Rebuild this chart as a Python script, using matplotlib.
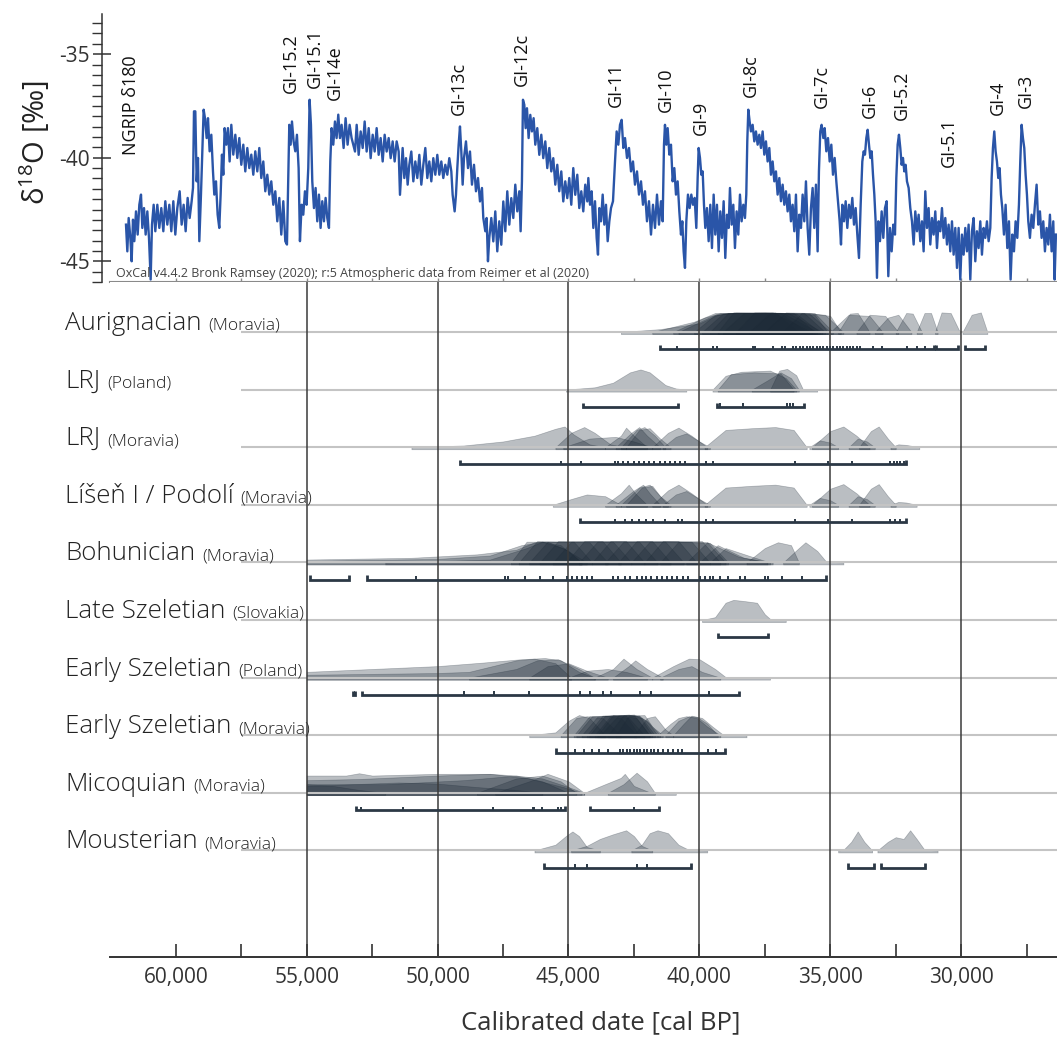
import matplotlib
matplotlib.use("Agg")
import matplotlib.pyplot as plt
import matplotlib.transforms as mtransforms
from matplotlib.ticker import FuncFormatter, MultipleLocator

plt.rcParams['font.family'] = ['Open Sans', 'DejaVu Sans']
plt.rcParams['axes.unicode_minus'] = False
plt.rcParams['mathtext.default'] = 'regular'

# ---------------- NGRIP d18O record ----------------
ngrip_age = [
    61903, 61852, 61801, 61737, 61687, 61636, 61585, 61521, 61457, 61394, 61330, 61279, 61215, 61152,
    61088, 61025, 60961, 60910, 60846, 60783, 60706, 60630, 60554, 60477, 60401, 60324, 60248, 60172,
    60095, 60019, 59943, 59853, 59777, 59701, 59624, 59548, 59471, 59395, 59344, 59306, 59255, 59204,
    59153, 59102, 59039, 58988, 58937, 58886, 58822, 58771, 58708, 58644, 58580, 58530, 58466, 58402,
    58339, 58288, 58237, 58186, 58135, 58071, 58008, 57944, 57880, 57804, 57727, 57651, 57575, 57498,
    57422, 57346, 57269, 57193, 57116, 57040, 56964, 56887, 56811, 56735, 56658, 56582, 56505, 56429,
    56353, 56276, 56200, 56123, 56047, 55971, 55894, 55818, 55754, 55716, 55665, 55614, 55563, 55500,
    55436, 55373, 55309, 55258, 55194, 55131, 55067, 55004, 54940, 54889, 54838, 54787, 54723, 54660,
    54596, 54532, 54469, 54405, 54341, 54278, 54214, 54150, 54099, 54049, 53985, 53921, 53858, 53794,
    53730, 53667, 53590, 53514, 53438, 53361, 53285,
    53155, 53091, 53015, 52939, 52862, 52786, 52710, 52633, 52557, 52480, 52404, 52328, 52251, 52175,
    52098, 52022, 51946, 51869, 51793, 51717, 51640, 51564, 51487, 51437, 51386, 51335, 51271, 51207,
    51144, 51080, 51004, 50927, 50851, 50775, 50698, 50622, 50545, 50469, 50393, 50316, 50240, 50164,
    50087, 50011, 49934, 49858, 49782, 49705, 49629, 49553, 49476, 49425, 49349, 49298, 49247, 49196,
    49145, 49094, 49043, 48992, 48916, 48839, 48763, 48687, 48610, 48534, 48457, 48381, 48305, 48254,
    48178, 48127, 48076, 48025, 47948, 47872, 47796, 47720, 47643, 47567, 47490, 47414, 47338, 47261,
    47185, 47108, 47032, 46956, 46879, 46828, 46778, 46739, 46688, 46637, 46586, 46523, 46459, 46396,
    46332, 46268, 46192, 46115, 46039, 45963, 45886, 45810, 45734, 45657, 45581, 45504, 45428, 45352,
    45275, 45199, 45123, 45046, 44970, 44893, 44817, 44741, 44664, 44588, 44511, 44435, 44359, 44282,
    44242, 44178, 44115, 44051, 43987, 43924, 43873, 43822, 43758, 43694, 43631, 43567, 43503, 43440,
    43376, 43300, 43223, 43160, 43096, 43032, 42969, 42905, 42841, 42765, 42689, 42612, 42536, 42460,
    42383, 42307, 42230, 42154, 42078, 42001, 41925, 41848, 41772, 41696, 41619, 41543, 41467, 41403,
    41352, 41314, 41263, 41212, 41148, 41085, 41021, 40957, 40894, 40830, 40766, 40703, 40652, 40601,
    40550, 40499, 40436, 40372, 40308, 40245, 40181, 40117, 40066, 40028, 39977, 39926, 39875, 39824,
    39774, 39710, 39646, 39583, 39519, 39455, 39392, 39328, 39264, 39201, 39137, 39073, 39010, 38946,
    38882, 38832, 38768, 38704, 38641, 38577, 38513, 38450, 38386, 38322, 38259, 38208, 38170, 38131,
    38080, 38030, 37966, 37902, 37839, 37775, 37711, 37648, 37584, 37520, 37457, 37393, 37329, 37266,
    37202, 37138, 37075, 37011, 36947, 36884, 36820, 36756, 36693, 36629, 36565, 36502, 36438, 36374,
    36311, 36247, 36183, 36120, 36056, 35993, 35929, 35865, 35802, 35738, 35674, 35611, 35547, 35483,
    35433, 35382, 35331,
    35265, 35214, 35151, 35087, 35023, 34960, 34896, 34832, 34769, 34705, 34641, 34590, 34540, 34476,
    34412, 34349, 34285, 34221, 34158, 34094, 34030, 33967, 33903, 33839, 33776, 33725, 33674, 33623,
    33572, 33521, 33470, 33419, 33368, 33317, 33267, 33216, 33165, 33101, 33037, 32974, 32910, 32846,
    32783, 32719, 32655, 32592, 32528, 32477, 32426, 32376, 32325, 32274, 32223, 32172, 32121, 32070,
    32006, 31943, 31879, 31815, 31752, 31688, 31624, 31561, 31497, 31434, 31370, 31306, 31243, 31179,
    31115, 31052, 30988, 30924, 30861, 30797, 30733, 30670, 30606, 30542, 30479, 30415, 30351, 30288,
    30224, 30160, 30097, 30033, 29970, 29906, 29842, 29779, 29715, 29651, 29588, 29524, 29460, 29397,
    29333, 29269, 29206, 29142, 29078, 29015, 28951, 28887, 28836, 28786, 28735, 28684, 28633, 28582,
    28531, 28480, 28429, 28365, 28302, 28238, 28174, 28111, 28047, 27983, 27920, 27856, 27793, 27742,
    27691, 27640, 27589, 27538, 27487, 27436, 27373, 27309, 27245, 27182, 27118, 27054, 26991, 26927,
    26863, 26800, 26736, 26672, 26609, 26545, 26481, 26430, 26380,
]
ngrip_d18o = [
    -43.23, -44.52, -42.91, -43.87, -45.00, -42.99, -44.03, -42.59, -43.71, -42.27, -41.78, -43.39, -42.43, -43.71,
    -42.59, -43.87, -45.88, -43.23, -42.27, -43.55, -42.27, -43.39, -42.43, -43.55, -42.10, -43.23, -42.27, -43.55,
    -42.10, -43.71, -42.43, -41.62, -43.23, -42.27, -43.55, -41.94, -42.91, -42.10, -41.46, -37.76, -37.76, -41.14,
    -40.01, -44.03, -41.78, -39.69, -37.68, -38.09, -39.05, -38.09, -39.69, -38.89, -40.66, -41.78, -41.14, -42.75,
    -43.39, -41.78, -39.85, -40.82, -38.57, -39.37, -38.57, -40.18, -38.41, -39.85, -38.89, -40.01, -39.05, -40.34,
    -39.37, -40.66, -39.53, -40.50, -39.85, -40.82, -39.69, -40.66, -39.53, -40.98, -40.18, -41.62, -40.82, -41.78,
    -41.14, -42.27, -41.62, -43.07, -41.94, -43.71, -42.10, -44.03, -44.19, -41.78, -38.41, -39.37, -38.25, -39.21,
    -39.69, -38.89, -40.50, -44.03, -42.27, -42.75, -41.62, -42.27, -40.50, -37.20, -38.41, -41.14, -42.43, -41.46,
    -43.07, -41.78, -43.39, -42.10, -43.07, -41.94, -42.91, -43.39, -40.18, -38.57, -39.37, -38.25, -39.05, -37.92,
    -39.05, -38.41, -39.53, -38.09, -39.37, -38.41, -39.05,
    -39.70, -38.41, -39.86, -38.73, -39.53, -38.25, -39.70, -38.57, -40.02, -38.89, -39.70, -38.57, -39.86, -39.05,
    -40.18, -38.89, -39.70, -39.05, -40.02, -39.21, -40.18, -39.21, -39.70, -41.79, -40.66, -39.53, -40.98, -40.02,
    -41.30, -40.34, -39.70, -41.14, -40.18, -40.98, -39.86, -41.30, -40.34, -39.53, -40.98, -40.18, -41.14, -40.02,
    -40.82, -39.86, -40.82, -40.18, -40.98, -40.34, -40.82, -40.02, -40.66, -41.79, -42.59, -41.79, -40.50, -39.37,
    -38.49, -39.70, -41.30, -40.02, -39.21, -40.50, -39.70, -41.30, -40.34, -41.62, -40.98, -42.11, -41.46, -42.91,
    -43.55, -42.91, -45.00, -43.87, -42.91, -44.04, -42.59, -44.52, -43.07, -44.20, -42.11, -43.55, -41.62, -43.23,
    -41.95, -42.91, -41.30, -42.59, -41.62, -43.55, -41.14, -37.20, -37.44, -38.57, -37.61, -39.05, -37.93, -38.73,
    -38.09, -39.37, -38.57, -39.86, -38.89, -40.02, -39.21, -40.50, -39.53, -40.66, -40.02, -41.30, -40.34, -41.62,
    -40.66, -42.11, -41.14, -41.95, -40.98, -42.27, -40.50, -41.79, -40.82, -42.43, -41.62, -42.59, -41.30, -42.11,
    -40.98, -42.27, -41.62, -43.39, -42.10, -43.87, -44.68, -42.43, -43.07, -41.78, -43.23, -42.27, -44.03, -43.07,
    -42.43, -42.10, -40.18, -38.73, -39.37, -38.41, -38.17, -39.53, -39.05, -40.01, -39.53, -40.66, -40.18, -41.30,
    -40.66, -41.78, -41.14, -42.27, -41.62, -43.07, -42.10, -43.71, -42.27, -43.39, -41.78, -43.23, -42.10, -43.07,
    -39.37, -38.41, -39.37, -38.57, -39.85, -39.37, -41.14, -40.50, -41.78, -41.14, -42.59, -43.71, -43.07, -44.52,
    -45.32, -43.07, -41.78, -42.43, -41.78, -42.27, -41.94, -43.39, -40.98, -39.53, -40.01, -40.82, -40.66, -42.27,
    -43.39, -42.43, -44.03, -42.27, -44.36, -41.78, -43.71, -42.27, -44.52, -42.59, -43.87, -42.10, -44.84, -42.75,
    -43.39, -41.46, -43.23, -42.27, -44.36, -42.59, -43.71, -41.78, -43.07, -42.27, -42.91, -41.78, -39.21, -37.68,
    -38.25, -38.73, -38.41, -39.21, -38.73, -39.37, -38.89, -39.53, -38.73, -39.85, -39.21, -40.18, -39.53, -40.82,
    -40.18, -41.14, -40.66, -41.78, -40.98, -42.10, -41.30, -42.27, -41.62, -42.59, -41.78, -43.07, -42.27, -43.55,
    -41.78, -44.52, -42.75, -43.39, -41.78, -43.07, -41.14, -43.39, -44.68, -42.43, -41.46, -43.39, -41.30, -44.52,
    -40.66, -38.73, -38.41,
    -39.05, -38.57, -39.69, -39.05, -40.18, -39.37, -40.82, -40.01, -41.14, -42.10, -43.07, -44.19, -42.27, -43.07,
    -42.10, -43.39, -42.27, -42.91, -41.94, -43.23, -42.43, -43.71, -44.84, -42.27, -40.18, -39.69, -39.85, -39.05,
    -38.65, -39.37, -40.01, -39.69, -40.82, -41.78, -43.07, -45.80, -43.07, -44.03, -42.59, -43.87, -42.43, -42.10,
    -45.72, -43.39, -44.52, -43.23, -43.71, -40.98, -39.37, -38.89, -39.53, -40.34, -40.01, -40.66, -40.34, -41.14,
    -41.46, -42.43, -43.07, -44.19, -42.59, -43.55, -42.75, -44.03, -43.07, -44.52, -41.62, -43.39, -42.43, -44.19,
    -42.91, -43.71, -42.59, -44.36, -43.07, -43.55, -42.43, -43.87, -42.91, -44.19, -43.23, -44.52, -43.07, -44.68,
    -43.39, -45.32, -43.39, -45.88, -43.71, -44.68, -43.39, -44.52, -43.23, -45.88, -43.55, -42.91, -45.00, -43.55,
    -44.36, -43.07, -44.68, -43.39, -43.87, -43.07, -44.03, -43.39, -40.98, -39.53, -38.73, -39.69, -40.18, -40.98,
    -40.50, -41.78, -42.43, -43.71, -42.27, -44.36, -43.07, -45.88, -43.71, -44.52, -43.07, -43.87, -42.27, -40.18,
    -38.41, -39.05, -39.53, -40.82, -41.78, -43.07, -43.87, -42.75, -43.39, -42.27, -41.30, -43.23, -42.59, -43.87,
    -43.07, -44.52, -43.39, -44.19, -42.75, -44.52, -43.07, -45.88, -43.71,
]

# Greenland interstadial labels
gi_names = ['GI-15.2', 'GI-15.1', 'GI-14e', 'GI-13c', 'GI-12c', 'GI-11', 'GI-10', 'GI-9',
            'GI-8c', 'GI-7c', 'GI-6', 'GI-5.2', 'GI-5.1', 'GI-4', 'GI-3']
gi_age = [55600, 54683, 53919, 49182, 46775, 43185, 41275, 39938,
          38028, 35316, 33482, 32279, 30464, 28592, 27542]
gi_d18o = [-36.87, -36.62, -37.20, -37.93, -36.53, -37.54, -37.78, -38.89,
           -37.06, -37.59, -38.07, -38.17, -40.43, -37.93, -37.59]

# ---------------- calibrated date groups ----------------
row_names = ['Aurignacian', 'LRJ', 'LRJ', 'Líšeň I / Podolí', 'Bohunician', 'Late Szeletian',
             'Early Szeletian', 'Early Szeletian', 'Micoquian', 'Mousterian']
row_regions = ['(Moravia)', '(Poland)', '(Moravia)', '(Moravia)', '(Moravia)', '(Slovakia)',
               '(Poland)', '(Moravia)', '(Moravia)', '(Moravia)']

# each distribution: (ages, relative heights)
aur_dists = [
    ([43000, 41500, 40000, 39300, 38700, 35800, 35000, 34600], [0, 0.05, 0.15, 0.3, 0.33, 0.33, 0.28, 0]),
    ([41800, 40200, 39400, 37500, 35600, 35100], [0, 0.18, 0.33, 0.34, 0.3, 0]),
    ([41000, 39800, 39200, 36800, 35500], [0, 0.25, 0.33, 0.33, 0]),
    ([40800, 39500, 38900, 36300, 35400], [0, 0.28, 0.33, 0.32, 0]),
    ([40200, 39400, 38600, 36000, 35200], [0, 0.3, 0.34, 0.33, 0]),
    ([39900, 39100, 37200, 35700], [0, 0.32, 0.34, 0]),
    ([39600, 38900, 36600, 35300], [0, 0.33, 0.33, 0]),
    ([39300, 38700, 36900, 35900], [0, 0.34, 0.33, 0]),
    ([39100, 38300, 37100, 36200], [0, 0.33, 0.34, 0]),
    ([38600, 37900, 36400, 35600], [0, 0.34, 0.33, 0]),
    ([38100, 37300, 35800, 35000], [0, 0.33, 0.32, 0]),
    ([37500, 36700, 35600, 34900], [0, 0.34, 0.33, 0]),
    ([36800, 36100, 35200, 34500], [0, 0.33, 0.3, 0]),
    ([34700, 34250, 33950, 33500], [0, 0.32, 0.33, 0]),
    ([35000, 34300, 33500, 33000], [0, 0.3, 0.28, 0]),
    ([34000, 33500, 32900, 32400], [0, 0.3, 0.28, 0]),
    ([33300, 32800, 32400, 31900], [0, 0.25, 0.3, 0]),
    ([32500, 32100, 31850, 31500], [0, 0.33, 0.32, 0]),
    ([31700, 31400, 31150, 30900], [0, 0.33, 0.33, 0]),
    ([31000, 30750, 30400, 30050], [0, 0.34, 0.33, 0]),
    ([29950, 29600, 29250, 29000], [0, 0.3, 0.34, 0]),
]
lrjp_dists = [
    ([45100, 44000, 43300, 42650, 42250, 41900, 41300, 40900, 40500], [0, 0.04, 0.12, 0.3, 0.35, 0.3, 0.08, 0.02, 0]),
    ([39500, 39000, 38400, 37300, 36700, 36300], [0, 0.24, 0.31, 0.33, 0.2, 0]),
    ([39300, 38800, 37900, 36900, 36400], [0, 0.27, 0.3, 0.28, 0]),
    ([38000, 37400, 36900, 36500, 36200], [0, 0.16, 0.3, 0.2, 0]),
    ([37300, 36950, 36650, 36300, 36050, 35500], [0, 0.33, 0.36, 0.25, 0.01, 0]),
]
lrjm_dists = [
    ([51000, 49000, 47500, 46300, 45500, 45150, 44800, 44200, 43600], [0, 0.03, 0.1, 0.2, 0.32, 0.36, 0.22, 0.05, 0]),
    ([45500, 44900, 44400, 44000, 43400, 42800], [0, 0.25, 0.35, 0.25, 0.05, 0]),
    ([45200, 44200, 43200, 42500, 41800], [0, 0.15, 0.18, 0.1, 0]),
    ([43600, 43000, 42800, 42500, 42000], [0, 0.2, 0.34, 0.2, 0]),
    ([43200, 42600, 42300, 42000, 41500], [0, 0.25, 0.35, 0.2, 0]),
    ([43000, 42400, 42100, 41700, 41300], [0, 0.3, 0.35, 0.2, 0]),
    ([42800, 42300, 41900, 41500, 41100], [0, 0.3, 0.33, 0.15, 0]),
    ([41800, 41200, 40800, 40300, 39700], [0, 0.25, 0.34, 0.2, 0]),
    ([41400, 40900, 40500, 40000, 39600], [0, 0.18, 0.24, 0.1, 0]),
    ([39800, 39000, 38000, 37100, 36400, 35900], [0, 0.3, 0.33, 0.35, 0.3, 0]),
    ([35800, 35400, 35000, 34700], [0, 0.12, 0.08, 0]),
    ([35700, 35000, 34500, 34000, 33500], [0, 0.28, 0.36, 0.2, 0]),
    ([34300, 33950, 33600, 33300], [0, 0.15, 0.1, 0]),
    ([33900, 33450, 33150, 32800, 32500], [0, 0.28, 0.36, 0.15, 0]),
    ([32700, 32400, 32100, 31600], [0, 0.05, 0.04, 0]),
]
lis_dists = [
    ([45600, 44900, 44300, 43600, 43000], [0, 0.1, 0.18, 0.15, 0]),
    ([43600, 43000, 42700, 42450, 42000], [0, 0.2, 0.35, 0.2, 0]),
    ([43200, 42500, 42150, 41900, 41500], [0, 0.25, 0.35, 0.2, 0]),
    ([43000, 42300, 41900, 41600, 41200], [0, 0.3, 0.35, 0.2, 0]),
    ([42800, 42200, 41800, 41500, 41100], [0, 0.3, 0.33, 0.15, 0]),
    ([41800, 41200, 40800, 40300, 39700], [0, 0.25, 0.35, 0.2, 0]),
    ([41400, 40900, 40500, 40000, 39600], [0, 0.18, 0.24, 0.1, 0]),
    ([39800, 39000, 38000, 37100, 36400, 35900], [0, 0.3, 0.33, 0.35, 0.3, 0]),
    ([35800, 35400, 35000, 34700], [0, 0.12, 0.08, 0]),
    ([35700, 35000, 34500, 34000, 33500], [0, 0.28, 0.36, 0.2, 0]),
    ([34300, 33950, 33600, 33300], [0, 0.15, 0.1, 0]),
    ([33900, 33450, 33150, 32800, 32500], [0, 0.28, 0.36, 0.15, 0]),
    ([32700, 32400, 32100, 31700], [0, 0.05, 0.04, 0]),
]
boh_dists = [
    ([55000, 51000, 48500, 47000, 46300, 45800, 45000, 44500], [0.05, 0.08, 0.14, 0.22, 0.35, 0.36, 0.2, 0]),
    ([55000, 50000, 48000, 46800, 46000, 45200, 44300], [0.03, 0.06, 0.12, 0.3, 0.36, 0.25, 0]),
    ([52000, 48000, 46600, 46000, 45300, 44500], [0, 0.05, 0.25, 0.36, 0.3, 0]),
    ([47200, 46600, 44800, 44100], [0, 0.36, 0.36, 0]),
    ([46900, 46200, 44200, 43500], [0, 0.37, 0.35, 0]),
    ([46500, 45800, 43700, 43000], [0, 0.36, 0.37, 0]),
    ([46100, 45400, 43300, 42600], [0, 0.37, 0.36, 0]),
    ([45600, 44900, 42800, 42100], [0, 0.36, 0.37, 0]),
    ([45100, 44400, 42300, 41600], [0, 0.37, 0.36, 0]),
    ([44600, 43900, 41800, 41100], [0, 0.36, 0.37, 0]),
    ([44100, 43400, 41300, 40600], [0, 0.37, 0.36, 0]),
    ([43600, 42900, 40800, 40100], [0, 0.36, 0.37, 0]),
    ([43100, 42400, 40300, 39600], [0, 0.37, 0.36, 0]),
    ([42600, 41900, 39900, 39200], [0, 0.36, 0.37, 0]),
    ([42100, 41400, 39700, 39000], [0, 0.37, 0.35, 0]),
    ([41500, 40800, 39600, 38900], [0, 0.36, 0.34, 0]),
    ([40500, 39700, 38500, 37400], [0, 0.35, 0.1, 0]),
    ([40000, 39300, 38300, 37200], [0, 0.3, 0.08, 0]),
    ([39600, 39000, 38000, 37300], [0, 0.25, 0.1, 0]),
    ([38200, 37500, 37000, 36500, 36200], [0, 0.25, 0.35, 0.3, 0]),
    ([36800, 36200, 35950, 35500, 35150, 34500], [0, 0.25, 0.35, 0.2, 0.01, 0]),
]
lsz_dists = [
    ([39900, 39400, 39000, 38700, 38300, 37800, 37500, 37300, 36700], [0, 0.05, 0.3, 0.35, 0.33, 0.3, 0.1, 0.02, 0]),
]
esp_dists = [
    ([55000, 52500, 50000, 48300, 46800, 45900, 45300, 44600, 44000], [0.1, 0.15, 0.2, 0.26, 0.32, 0.34, 0.3, 0.1, 0]),
    ([55000, 50000, 48800, 47000, 46300, 45500, 44900], [0.05, 0.08, 0.1, 0.3, 0.33, 0.25, 0]),
    ([48800, 47000, 46200, 45400, 44600, 44000], [0, 0.15, 0.3, 0.32, 0.15, 0]),
    ([46500, 45800, 45000, 44300, 43500], [0, 0.2, 0.25, 0.12, 0]),
    ([45000, 44300, 43500, 42800, 42000], [0, 0.12, 0.15, 0.1, 0]),
    ([44000, 43300, 42900, 42400, 41800], [0, 0.15, 0.33, 0.15, 0]),
    ([43300, 42700, 42450, 42000, 41400], [0, 0.2, 0.3, 0.15, 0]),
    ([41800, 41000, 40400, 40000, 39400, 39000, 37300], [0, 0.2, 0.33, 0.32, 0.15, 0.01, 0]),
    ([41500, 40800, 40300, 39900, 39200], [0, 0.15, 0.2, 0.1, 0]),
]
esm_dists = [
    ([46500, 45500, 45000, 44600, 44200, 43600], [0, 0.05, 0.25, 0.35, 0.3, 0]),
    ([45300, 44700, 44300, 43700, 43000], [0, 0.3, 0.33, 0.3, 0]),
    ([44800, 44200, 43600, 43000, 42400], [0, 0.33, 0.34, 0.3, 0]),
    ([44700, 44100, 42800, 42300], [0, 0.33, 0.34, 0]),
    ([44500, 43900, 43300, 42700, 42100], [0, 0.32, 0.35, 0.3, 0]),
    ([44300, 43700, 42500, 41900], [0, 0.34, 0.35, 0]),
    ([44200, 43600, 43000, 42400, 41900], [0, 0.34, 0.35, 0.3, 0]),
    ([44000, 43400, 42700, 42200, 41700], [0, 0.33, 0.36, 0.3, 0]),
    ([43900, 43300, 42300, 41800], [0, 0.35, 0.34, 0]),
    ([43800, 43100, 42500, 42000, 41600], [0, 0.34, 0.36, 0.25, 0]),
    ([43500, 42900, 42300, 41900, 41500], [0, 0.35, 0.34, 0.2, 0]),
    ([43200, 42700, 42100, 41800, 41400], [0, 0.34, 0.35, 0.15, 0]),
    ([42500, 42000, 41700, 41300, 41000], [0, 0.3, 0.33, 0.1, 0]),
    ([41600, 41100, 40800, 40500, 40100, 39700, 39200], [0, 0.2, 0.3, 0.33, 0.3, 0.15, 0]),
    ([41300, 40800, 40400, 40100, 39700, 39300], [0, 0.25, 0.33, 0.32, 0.2, 0]),
    ([41000, 40600, 40300, 39900, 39500, 39100, 38200], [0, 0.2, 0.34, 0.3, 0.15, 0.01, 0]),
]
mic_dists = [
    ([55000, 53500, 53000, 52500, 50000, 48000, 47000, 46000, 45000, 44400], [0.3, 0.3, 0.34, 0.3, 0.33, 0.33, 0.3, 0.25, 0.1, 0]),
    ([55000, 53000, 50000, 48000, 46500, 45200, 44500], [0.22, 0.24, 0.3, 0.33, 0.25, 0.1, 0]),
    ([55000, 52000, 49000, 47000, 46000, 45000], [0.15, 0.15, 0.22, 0.3, 0.2, 0]),
    ([55000, 51500, 50000, 48500, 47000, 46000], [0.12, 0.18, 0.16, 0.1, 0.05, 0]),
    ([55000, 54000, 53000, 52000], [0.15, 0.12, 0.05, 0]),
    ([47800, 46500, 45800, 45000, 44400], [0, 0.2, 0.33, 0.2, 0]),
    ([48500, 47000, 46000, 45300, 44700], [0, 0.25, 0.3, 0.2, 0]),
    ([44400, 43600, 43000, 42850, 42500, 41900, 40900], [0, 0.15, 0.26, 0.33, 0.12, 0.01, 0]),
    ([43500, 42900, 42400, 42000, 41700], [0, 0.15, 0.35, 0.2, 0]),
]
mou_dists = [
    ([46300, 45500, 45100, 44850, 44600, 44300, 43800], [0, 0.1, 0.25, 0.33, 0.25, 0.06, 0]),
    ([44900, 44300, 43800, 43300, 42800, 42500, 42200, 41800], [0, 0.08, 0.2, 0.28, 0.35, 0.25, 0.08, 0]),
    ([42600, 42200, 41900, 41600, 41200, 40800, 40400, 39700], [0, 0.1, 0.3, 0.35, 0.3, 0.1, 0.01, 0]),
    ([34700, 34500, 34200, 33950, 33700, 33400], [0, 0.01, 0.15, 0.33, 0.15, 0]),
    ([33200, 32800, 32500, 32200, 31950, 31700, 31400, 30900], [0, 0.15, 0.23, 0.2, 0.35, 0.2, 0.01, 0]),
]

# bracket ranges (start, end) and individual tick marks
aur_brackets = [(41500, 31050), (30980, 30120), (29850, 29090)]
aur_ticks = [40870, 39470, 39340, 37940, 37880, 37180, 36860, 36730, 36410, 36290, 36160, 36030, 35900,
             35780, 35650, 35520, 35390, 35270, 35140, 35010, 34890, 34760, 34630, 34500, 34380, 34250,
             34120, 33990, 33870, 33360, 33040, 32080, 31700, 31380]
lrjp_brackets = [(44440, 40800), (39340, 36000)]
lrjp_ticks = [39210, 38320, 36670, 36540, 36410]
lrjm_brackets = [(49150, 32090)]
lrjm_ticks = [45270, 44510, 43240, 43100, 42910, 42710, 42510, 42310, 42120, 41920, 41720, 41520, 41330,
              41130, 40930, 40740, 40560, 39750, 39490, 36330, 35100, 34160, 32710, 32580, 32450, 32320, 32190]
lis_brackets = [(44550, 32090)]
lis_ticks = [43240, 42840, 42580, 42310, 42050, 41790, 41330, 40800, 40670, 39750, 39490, 36330, 35100,
             34160, 32710, 32510, 32320]
boh_brackets = [(54870, 53370), (52710, 35150)]
boh_ticks = [50830, 47430, 47300, 46660, 46090, 45580, 45070, 44880, 44690, 44500, 44310, 44120, 43290,
             43100, 42840, 42650, 42400, 42210, 42020, 41830, 41630, 41440, 41250, 41060, 40870, 40620,
             40430, 39980, 39790, 39600, 39490, 39220, 38890, 38430, 38240, 37510, 37380, 36860, 36070]
lsz_brackets = [(39290, 37380)]
lsz_ticks = []
esp_brackets = [(53230, 53150), (52870, 38470)]
esp_ticks = [49000, 47830, 46500, 44550, 44160, 43700, 43370, 42250, 41830, 39640]
esm_brackets = [(45470, 39030)]
esm_ticks = [44750, 44420, 44090, 43830, 43500, 43040, 42910, 42770, 42640, 42510, 42380, 42250, 42120,
             41990, 41850, 41720, 41590, 41390, 41200, 41000, 40800, 40670, 39680, 39350]
mic_brackets = [(53100, 45140), (44180, 41550)]
mic_ticks = [52930, 51330, 47880, 46370, 46330, 46000, 45400, 45270, 42510]
mou_brackets = [(45930, 40320), (34320, 33330), (33070, 31400)]
mou_ticks = [44770, 44310, 42380, 41990]

row_dists = [aur_dists, lrjp_dists, lrjm_dists, lis_dists, boh_dists, lsz_dists,
             esp_dists, esm_dists, mic_dists, mou_dists]
row_brackets = [aur_brackets, lrjp_brackets, lrjm_brackets, lis_brackets, boh_brackets, lsz_brackets,
                esp_brackets, esm_brackets, mic_brackets, mou_brackets]
row_ticks = [aur_ticks, lrjp_ticks, lrjm_ticks, lis_ticks, boh_ticks, lsz_ticks,
             esp_ticks, esm_ticks, mic_ticks, mou_ticks]

grid_years = [55000, 50000, 45000, 40000, 35000, 30000]
major_years = [60000, 55000, 50000, 45000, 40000, 35000, 30000]
minor_years = [57500, 52500, 47500, 42500, 37500, 32500, 27500]

XLIM = (62514, 26339)
W, H = 1057, 1037

fig = plt.figure(figsize=(W / 100, H / 100), dpi=100)
ax_top = fig.add_axes([110 / W, 1 - 282 / H, 947 / W, 268 / H])
ax = fig.add_axes([110 / W, 1 - 957 / H, 947 / W, 675 / H])

# ---------------- top panel: NGRIP ----------------
ax_top.plot(ngrip_age, ngrip_d18o, color='#2a55a8', lw=1.7, zorder=2)
ax_top.set_xlim(XLIM)
ax_top.set_ylim(-46, -33.06)
for s in ['top', 'right']:
    ax_top.spines[s].set_visible(False)
ax_top.spines['left'].set_position(('outward', 5.8))
ax_top.spines['left'].set_color('#333333')
ax_top.spines['left'].set_linewidth(1.1)
ax_top.spines['bottom'].set_color('#8a8a8a')
ax_top.spines['bottom'].set_linewidth(1.5)
ax_top.set_yticks([-45, -40, -35])
ax_top.set_yticklabels(['-45', '-40', '-35'])
ax_top.yaxis.set_minor_locator(MultipleLocator(0.5))
ax_top.tick_params(axis='y', which='major', direction='inout', length=13, width=1.1,
                   color='#333333', labelcolor='#333333', labelsize=15, pad=2)
ax_top.tick_params(axis='y', which='minor', direction='out', length=7, width=1.0, color='#333333')
ax_top.set_xticks(minor_years + major_years)
ax_top.tick_params(axis='x', which='major', direction='in', length=3, width=1, color='#8a8a8a',
                   labelbottom=False)
ax_top.set_ylabel('δ$^{18}$O [‰]', fontsize=21, color='#222222')
ax_top.yaxis.set_label_coords(-0.061, 0.52)

ax_top.text(61712, -39.86, 'NGRIP δ180', rotation=90, ha='center', va='bottom',
            fontsize=13, color='#111111')
for name, age, val in zip(gi_names, gi_age, gi_d18o):
    ax_top.text(age, val, name, rotation=90, ha='center', va='bottom', fontsize=13, color='#111111')
ax_top.text(0.006, 0.03, 'OxCal v4.4.2 Bronk Ramsey (2020); r:5 Atmospheric data from Reimer et al (2020)',
            transform=ax_top.transAxes, fontsize=9, color='#444444', va='center', ha='left')

# ---------------- lower panel: calibrated dates ----------------
ax.set_xlim(XLIM)
ax.set_ylim(-10.85, 0.868)
for s in ['top', 'right', 'left']:
    ax.spines[s].set_visible(False)
ax.spines['bottom'].set_color('#333333')
ax.spines['bottom'].set_linewidth(1.4)
ax.set_yticks([])
ax.set_xticks(major_years)
ax.set_xticks(minor_years, minor=True)
ax.xaxis.set_major_formatter(FuncFormatter(lambda v, p: f'{int(v):,}'))
ax.tick_params(axis='x', which='both', direction='in', length=9.5, width=1.2, color='#333333',
               labelcolor='#333333', labelsize=15, pad=7)
ax.set_xlabel('Calibrated date [cal BP]', fontsize=18.5, color='#333333', labelpad=16)
ax.xaxis.label.set_x(0.518)

ax.vlines(grid_years, -10.85, 0.868, color='#3a3a3a', lw=1.1, zorder=4)

label_trans = mtransforms.blended_transform_factory(fig.transFigure, ax.transData)
dist_color = '#1d2a37'
bracket_color = '#2b3845'
for i in range(len(row_names)):
    base = -i
    for ages, heights in row_dists[i]:
        ax.fill_between(ages, base - 0.035, [base + h for h in heights], facecolor=dist_color,
                        edgecolor=dist_color, alpha=0.3, lw=0.5, zorder=2)
    ax.hlines(base, 57500, XLIM[1], color='#c4c4c4', lw=1.5, zorder=3)
    yb = base - 0.30
    for start, end in row_brackets[i]:
        ax.plot([start, start, end, end], [yb + 0.075, yb, yb, yb + 0.075], color=bracket_color,
                lw=2.0, solid_joinstyle='miter', solid_capstyle='butt', zorder=5)
    if row_ticks[i]:
        ax.vlines(row_ticks[i], yb, yb + 0.06, color=bracket_color, lw=1.4, zorder=5)
    main = ax.text(65 / W, base + 0.035, row_names[i], transform=label_trans, fontsize=18.6,
                   fontweight='light', color='#222222', ha='left', va='baseline')
    ax.annotate(row_regions[i], xy=(1, 0), xycoords=main, xytext=(5, 4.4), textcoords='offset points',
                fontsize=12.6, fontweight='light', color='#222222', ha='left', va='baseline')

fig.savefig('out.png', dpi=100)
